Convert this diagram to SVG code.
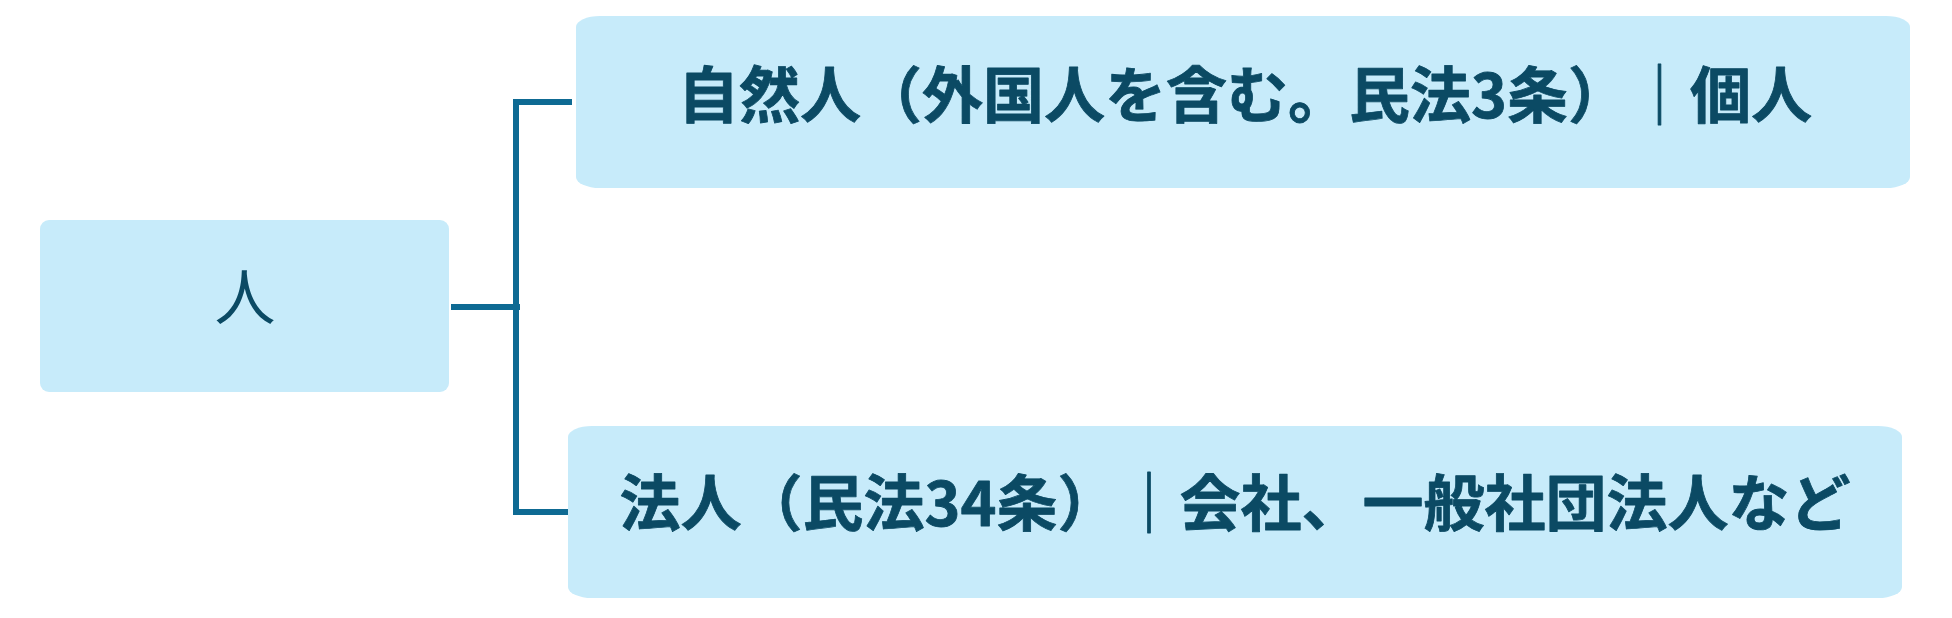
<svg xmlns="http://www.w3.org/2000/svg" width="1952" height="618" viewBox="0 0 1952 618">
<style>
.box{fill:#C7EBFA;}
.t{font-family:"Noto Sans CJK JP","Noto Sans CJK SC",sans-serif;fill:#0B4A64;text-anchor:middle;font-size:61px;}
.b{font-weight:700;stroke:#0B4A64;stroke-width:0.8;stroke-linejoin:round;}
.conn{fill:none;stroke:#0E6A93;stroke-width:6;}
</style>
<rect width="1952" height="618" fill="#FFFFFF"/>
<g id="connectors">
<path class="conn" d="M572,102 H516 V512 H568"/>
<path class="conn" d="M451,307 H520"/>
</g>
<g id="node-person">
<rect class="box" x="40" y="220" width="409" height="172" rx="9" ry="9"/>
<text class="t" x="245" y="320">人</text>
</g>
<g id="node-natural">
<rect class="box" x="576" y="16" width="1334" height="172" rx="24" ry="11"/>
<text class="t b" x="1245" y="118">自然人（外国人を含む。民法3条）｜個人</text>
</g>
<g id="node-juridical">
<rect class="box" x="568" y="426" width="1334" height="172" rx="24" ry="11"/>
<text class="t b" x="1235" y="526">法人（民法34条）｜会社、一般社団法人など</text>
</g>
</svg>
